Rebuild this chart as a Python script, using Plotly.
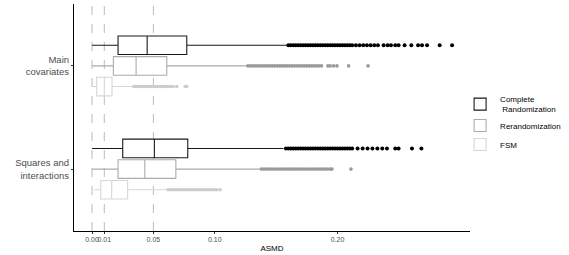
import plotly.graph_objects as go

# ---------------- data ----------------
categories = ["Main<br>covariates", "Squares and<br>interactions"]
methods = ["Complete<br> Randomization", "Rerandomization", "FSM"]

# box statistics per method, order: [Main covariates, Squares and interactions]
complete_low = [0.0, 0.0]
complete_q1 = [0.0212, 0.0250]
complete_med = [0.0449, 0.0508]
complete_q3 = [0.0772, 0.0780]
complete_high = [0.159, 0.156]

rerand_low = [0.0, 0.0]
rerand_q1 = [0.0174, 0.0212]
rerand_med = [0.0359, 0.0430]
rerand_q3 = [0.0609, 0.0683]
rerand_high = [0.126, 0.137]

fsm_low = [0.0005, 0.0018]
fsm_q1 = [0.0038, 0.0071]
fsm_med = [0.0100, 0.0160]
fsm_q3 = [0.0163, 0.0290]
fsm_high = [0.033, 0.061]

# outliers
main_complete_out = [0.160, 0.162, 0.164, 0.166, 0.168, 0.170, 0.172, 0.174, 0.176, 0.178,
                     0.180, 0.182, 0.184, 0.186, 0.188, 0.190, 0.192, 0.194, 0.196, 0.198,
                     0.200, 0.202, 0.204, 0.206, 0.208, 0.210, 0.212, 0.215, 0.218, 0.221,
                     0.224, 0.227, 0.230, 0.233, 0.2376, 0.2409, 0.2436, 0.2471, 0.2498,
                     0.2547, 0.2602, 0.2657, 0.2689, 0.2730, 0.2833, 0.2934]
main_rerand_out = [0.127, 0.129, 0.131, 0.133, 0.135, 0.137, 0.139, 0.141, 0.143, 0.145,
                   0.147, 0.149, 0.151, 0.153, 0.155, 0.157, 0.159, 0.161, 0.163, 0.165,
                   0.167, 0.169, 0.171, 0.173, 0.175, 0.177, 0.179, 0.181, 0.183, 0.185,
                   0.187, 0.1922, 0.1941, 0.1969, 0.1996, 0.2091, 0.2249]
main_fsm_out = [0.034, 0.036, 0.038, 0.040, 0.042, 0.044, 0.046, 0.048, 0.050, 0.052,
                0.054, 0.056, 0.058, 0.060, 0.062, 0.064, 0.066, 0.069, 0.0759, 0.0772]
sq_complete_out = [0.158, 0.160, 0.162, 0.164, 0.166, 0.168, 0.170, 0.172, 0.174, 0.176,
                   0.178, 0.180, 0.182, 0.184, 0.186, 0.188, 0.190, 0.192, 0.194, 0.196,
                   0.198, 0.200, 0.202, 0.204, 0.206, 0.208, 0.210, 0.212, 0.2164, 0.2205,
                   0.2245, 0.2285, 0.2325, 0.2365, 0.2403, 0.2471, 0.2498, 0.2607, 0.2684]
sq_rerand_out = [0.138, 0.140, 0.142, 0.144, 0.146, 0.148, 0.150, 0.152, 0.154, 0.156,
                 0.158, 0.160, 0.162, 0.164, 0.166, 0.168, 0.170, 0.172, 0.174, 0.176,
                 0.178, 0.180, 0.182, 0.184, 0.186, 0.188, 0.190, 0.192, 0.194, 0.1955,
                 0.211]
sq_fsm_out = [0.062, 0.064, 0.066, 0.068, 0.070, 0.072, 0.074, 0.076, 0.078, 0.080,
              0.082, 0.084, 0.086, 0.088, 0.090, 0.092, 0.094, 0.096, 0.098, 0.100,
              0.1017, 0.1044]

ref_lines = [0.0, 0.01, 0.05]
x_ticks = [0.0, 0.01, 0.05, 0.10, 0.20]
x_ticktext = ["0.00", "0.01", "0.05", "0.10", "0.20"]

# ---------------- styling ----------------
cat_pos = [2, 1]
offsets = [0.2, 0.0, -0.2]
line_colors = ["#1a1a1a", "#ababab", "#d6d6d6"]
point_colors = ["#000000", "#9a9a9a", "#cccccc"]
point_sizes = [4, 3.6, 3.6]

stats = [
    (complete_low, complete_q1, complete_med, complete_q3, complete_high),
    (rerand_low, rerand_q1, rerand_med, rerand_q3, rerand_high),
    (fsm_low, fsm_q1, fsm_med, fsm_q3, fsm_high),
]
outliers = [
    (main_complete_out, sq_complete_out),
    (main_rerand_out, sq_rerand_out),
    (main_fsm_out, sq_fsm_out),
]

fig = go.Figure()

for i, name in enumerate(methods):
    low, q1, med, q3, high = stats[i]
    ypos = [p + offsets[i] for p in cat_pos]
    fig.add_trace(go.Box(
        name=name,
        orientation="h",
        y=ypos,
        lowerfence=low, q1=q1, median=med, q3=q3, upperfence=high,
        boxpoints=False,
        width=0.18,
        whiskerwidth=0,
        fillcolor="white",
        line=dict(color=line_colors[i], width=1.1),
        showlegend=True,
        hoverinfo="skip",
    ))
    for j, pts in enumerate(outliers[i]):
        fig.add_trace(go.Scatter(
            x=pts,
            y=[cat_pos[j] + offsets[i]] * len(pts),
            mode="markers",
            marker=dict(color=point_colors[i], size=point_sizes[i], line=dict(width=0)),
            showlegend=False,
            hoverinfo="skip",
        ))

for v in ref_lines:
    fig.add_vline(x=v, line=dict(color="#9e9e9e", width=0.7, dash="dash"), layer="below")

fig.update_layout(
    width=569, height=255,
    margin=dict(l=74, r=99, t=4, b=24, autoexpand=False),
    paper_bgcolor="white",
    plot_bgcolor="white",
    boxmode="overlay",
    font=dict(family="Liberation Sans, Arial, sans-serif", color="#000000"),
    legend=dict(
        x=0.975, xanchor="left", y=0.475, yanchor="middle",
        font=dict(size=8, color="#000000"),
        tracegroupgap=0, itemwidth=30,
        bgcolor="rgba(0,0,0,0)",
    ),
    xaxis=dict(
        range=[-0.0147, 0.308],
        tickvals=x_ticks, ticktext=x_ticktext, tickangle=0,
        tickfont=dict(size=7, color="#4d4d4d"),
        ticks="outside", ticklen=2, tickcolor="#333333", tickwidth=0.6,
        showgrid=False, zeroline=False, automargin=False,
        showline=True, linecolor="#000000", linewidth=1.1,
        title=dict(text="ASMD", font=dict(size=8, color="#000000"), standoff=2),
    ),
    yaxis=dict(
        range=[0.4, 2.6],
        tickvals=cat_pos, ticktext=categories, automargin=False,
        tickfont=dict(size=9.5, color="#4d4d4d"),
        ticks="outside", ticklen=2, tickcolor="#333333", tickwidth=0.6,
        showgrid=False, zeroline=False,
        showline=True, linecolor="#000000", linewidth=1.1,
    ),
)

fig.write_html("out.html", config={"displayModeBar": False},
               post_script="document.body.style.margin='0';")
